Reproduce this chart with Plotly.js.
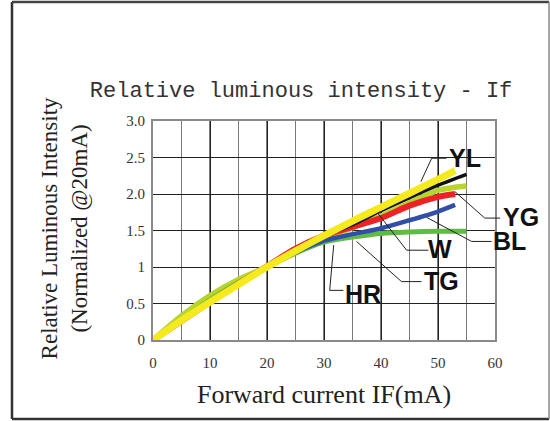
<!DOCTYPE html>
<html>
<head>
<meta charset="utf-8">
<script src="https://cdn.plot.ly/plotly-3.0.1.min.js"></script>
<style>html,body{margin:0;padding:0;background:#fff;}#chart{width:550px;height:421px;}</style>
</head>
<body>
<div id="chart"></div>
<script>
// Forward current (mA)
const currentShort = [0, 5, 10, 15, 20, 25, 30, 35, 40, 45, 50, 53];
const currentLong  = [0, 5, 10, 15, 20, 25, 30, 35, 40, 45, 50, 55];
// Relative luminous intensity (normalized @20mA)
const yellowYL = [0, 0.27, 0.52, 0.76, 1.0, 1.22, 1.43, 1.63, 1.82, 2.01, 2.2, 2.32];
const blackW   = [0, 0.28, 0.54, 0.77, 1.0, 1.22, 1.42, 1.58, 1.77, 1.95, 2.12, 2.27];
const limeYG   = [0, 0.33, 0.61, 0.83, 1.0, 1.2, 1.39, 1.54, 1.7, 1.88, 2.05, 2.11];
const redHR    = [0, 0.26, 0.52, 0.77, 1.01, 1.25, 1.43, 1.55, 1.67, 1.84, 1.96, 2.0];
const blueBL   = [0, 0.27, 0.53, 0.77, 1.0, 1.2, 1.36, 1.45, 1.53, 1.64, 1.76, 1.85];
const greenTG  = [0, 0.28, 0.55, 0.79, 1.0, 1.19, 1.34, 1.41, 1.46, 1.48, 1.49, 1.49];

const xTicks = [0, 10, 20, 30, 40, 50, 60];
const yTicks = [0, 0.5, 1, 1.5, 2, 2.5, 3];
const yTickText = ["0", "0.5", "1", "1.5", "2.0", "2.5", "3.0"];

// Curve labels and leader lines (data coordinates)
const labelNames = ["YL", "YG", "BL", "W", "TG", "HR"];
const labelX = [54.7, 64.6, 62.5, 50.4, 50.7, 36.9];
const labelY = [2.5, 1.68, 1.36, 1.25, 0.81, 0.63];
const leaderX = [[51.5, 48.9, 47.0], [60.9, 58.2, 53.0], [59.4, 55.9, 48.0], [48.3, 44.5, 39.5], [47.1, 43.6, 35.7], [33.4, 31.0, 31.7]];
const leaderY = [[2.49, 2.49, 2.17], [1.67, 1.67, 2.03], [1.35, 1.35, 1.68], [1.23, 1.23, 1.73], [0.80, 0.80, 1.35], [0.68, 0.68, 1.30]];

const X_MAX = 60, Y_MAX = 3;

function curve(x, y, color, width) {
  return {x: x, y: y, mode: 'lines', type: 'scatter', hoverinfo: 'skip',
          line: {color: color, width: width, shape: 'spline', smoothing: 0.8}, showlegend: false};
}

const traces = [
  curve(currentLong, limeYG, '#b7d431', 5.5),
  curve(currentLong, greenTG, '#5fbb46', 5),
  curve(currentShort, blueBL, '#2f50a6', 4.5),
  curve(currentShort, redHR, '#ec2227', 6),
  curve(currentLong, blackW, '#111111', 3.5),
  curve(currentShort, yellowYL, '#f4ea1e', 7)
];

const shapes = [];
for (let i = 0; i < leaderX.length; i++) {
  let path = '';
  for (let j = 0; j < leaderX[i].length; j++) {
    path += (j === 0 ? 'M' : 'L') + (leaderX[i][j] / X_MAX) + ',' + (leaderY[i][j] / Y_MAX);
  }
  shapes.push({type: 'path', xref: 'paper', yref: 'paper', path: path, line: {color: '#222', width: 1}});
}
// outer frame
shapes.push({type: 'line', xref: 'paper', yref: 'paper', x0: -0.4123, x1: -0.4123, y0: -0.3607, y1: 1.5434, line: {color: '#333', width: 2.5}});
shapes.push({type: 'line', xref: 'paper', yref: 'paper', x0: -0.4123, x1: 1.158, y0: 1.5434, y1: 1.5434, line: {color: '#444', width: 2.5}});
shapes.push({type: 'line', xref: 'paper', yref: 'paper', x0: -0.4123, x1: 1.158, y0: -0.3607, y1: -0.3607, line: {color: '#333', width: 2.5}});
shapes.push({type: 'line', xref: 'paper', yref: 'paper', x0: 1.158, x1: 1.158, y0: -0.3607, y1: 1.5434, line: {color: '#888', width: 1.5}});

const annotations = labelNames.map((t, i) => ({
  text: '<b>' + t + '</b>', x: labelX[i] / X_MAX, y: labelY[i] / Y_MAX, xref: 'paper', yref: 'paper', showarrow: false,
  xanchor: 'center', yanchor: 'middle', font: {family: 'Liberation Sans, Arial, sans-serif', size: 25, color: '#111'}
}));
annotations.push({
  text: 'Relative Luminous Intensity<br>(Normalized @20mA)', xref: 'paper', yref: 'paper',
  x: -0.26, y: 0.51, xanchor: 'center', yanchor: 'middle', textangle: -90, showarrow: false,
  font: {family: 'Liberation Serif, Times New Roman, serif', size: 23, color: '#222'}
});

const layout = {
  width: 550, height: 421,
  margin: {l: 153, r: 55, t: 121, b: 81},
  paper_bgcolor: '#fff', plot_bgcolor: '#fff',
  title: {text: 'Relative luminous intensity - If', font: {family: 'Liberation Mono, Courier New, monospace', size: 22, color: '#333'},
          x: 0.433, xanchor: 'center', xref: 'paper', y: 0.788, yanchor: 'middle'},
  xaxis: {range: [0, X_MAX], tickvals: xTicks, ticktext: xTicks.map(String), showgrid: true, gridcolor: '#222', gridwidth: 1,
          minor: {dtick: 5, showgrid: true, gridcolor: '#7a7a7a', gridwidth: 1.4}, zeroline: false,
          showline: true, linecolor: '#8a8a8a', linewidth: 2, mirror: true, ticks: '', ticklabelstandoff: 8,
          tickfont: {family: 'Liberation Serif, Times New Roman, serif', size: 15, color: '#333'},
          title: {text: 'Forward current IF(mA)', font: {family: 'Liberation Serif, Times New Roman, serif', size: 26, color: '#222'}, standoff: 15},
          fixedrange: true},
  yaxis: {range: [0, Y_MAX], tickvals: yTicks, ticktext: yTickText, showgrid: true, gridcolor: '#222', gridwidth: 1, zeroline: false,
          showline: true, linecolor: '#8a8a8a', linewidth: 2, mirror: true, ticks: '', ticklabelstandoff: 3,
          tickfont: {family: 'Liberation Serif, Times New Roman, serif', size: 15, color: '#333'}, fixedrange: true},
  shapes: shapes,
  annotations: annotations,
  showlegend: false
};

Plotly.newPlot('chart', traces, layout, {displayModeBar: false, staticPlot: true});
</script>
</body>
</html>
